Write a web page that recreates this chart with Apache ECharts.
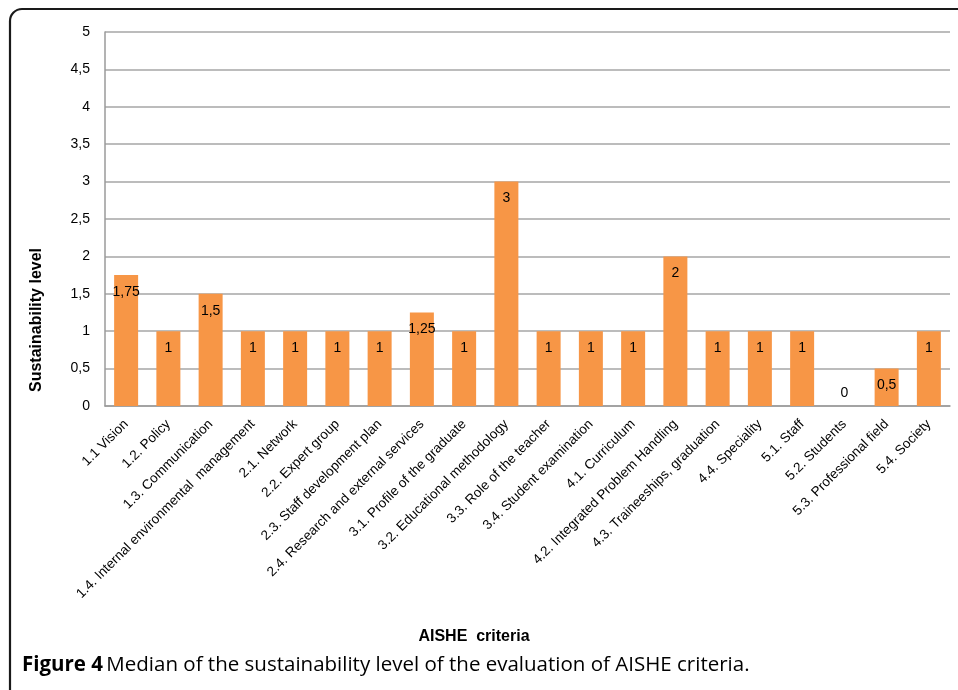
<!DOCTYPE html>
<html><head><meta charset="utf-8">
<script src="https://cdn.jsdelivr.net/npm/echarts@6/dist/echarts.min.js"></script>
<style>html,body{margin:0;padding:0;background:#fff}#c{width:958px;height:690px}</style>
</head><body><div id="c"></div>
<script>
const categories = ["1.1 Vision","1.2. Policy","1.3. Communication","1.4. Internal environmental  management","2.1. Network","2.2. Expert group","2.3. Staff development plan","2.4. Research and external services","3.1. Profile of the graduate","3.2. Educational methodology","3.3. Role of the teacher","3.4. Student examination","4.1. Curriculum","4.2. Integrated Problem Handling","4.3. Traineeships, graduation","4.4. Speciality","5.1. Staff","5.2. Students","5.3. Professional field","5.4. Society"];
const medianValues = [1.75,1,1.5,1,1,1,1,1.25,1,3,1,1,1,2,1,1,1,0,0.5,1];
const yTicks = [0,0.5,1,1.5,2,2.5,3,3.5,4,4.5,5];

const comma = v => String(v).replace('.', ',');
const chart = echarts.init(document.getElementById('c'));
chart.setOption({
  animation:false,
  backgroundColor:'#fff',
  grid:{left:105,right:8,top:32,bottom:284},
  graphic:[
    {type:'rect',shape:{x:10,y:9,width:1100,height:1000,r:[12,0,0,0]},style:{fill:'none',stroke:'#1a1a1a',lineWidth:2.2},z:-1},
    {type:'text',x:37,y:320,rotation:Math.PI/2,style:{text:'Sustainability level',font:'bold 16px "Liberation Sans", Arial',fill:'#000',align:'center',verticalAlign:'middle'}},
    {type:'text',x:474,y:637,style:{text:'AISHE  criteria',font:'bold 16px "Liberation Sans", Arial',fill:'#000',align:'center',verticalAlign:'middle'}},
    {type:'text',x:22,y:665,style:{rich:{b:{font:'bold 20.5px "Open Sans", sans-serif',fill:'#000'},n:{font:'20.5px "Open Sans", sans-serif',fill:'#000'}},text:'{b|Figure 4} {n|Median of the sustainability level of the evaluation of AISHE criteria.}',verticalAlign:'middle'}}
  ],
  xAxis:{type:'category',data:categories,
    axisLine:{lineStyle:{color:'#9a9a9a',width:1.5}},axisTick:{show:false},
    axisLabel:{rotate:45,interval:0,fontFamily:'"Liberation Sans", Arial',fontSize:13.5,color:'#000',margin:16}},
  yAxis:{type:'value',min:0,max:5,interval:0.5,
    axisLine:{show:true,lineStyle:{color:'#9a9a9a',width:1.5}},axisTick:{show:false},
    splitLine:{lineStyle:{color:'#a6a6a6',width:1.5}},
    axisLabel:{formatter:v=>yTicks.includes(v)?comma(v):'',fontFamily:'"Liberation Sans", Arial',fontSize:14,color:'#000',margin:15}},
  series:[{type:'bar',barWidth:24,
    data:medianValues.map(v=>v===0?{value:v,label:{position:'top',distance:6}}:v),
    itemStyle:{color:'#F79646'},
    label:{show:true,position:'insideTop',distance:10,formatter:p=>comma(p.value),fontFamily:'"Liberation Sans", Arial',fontSize:14,color:'#000'}}]
});
</script></body></html>
